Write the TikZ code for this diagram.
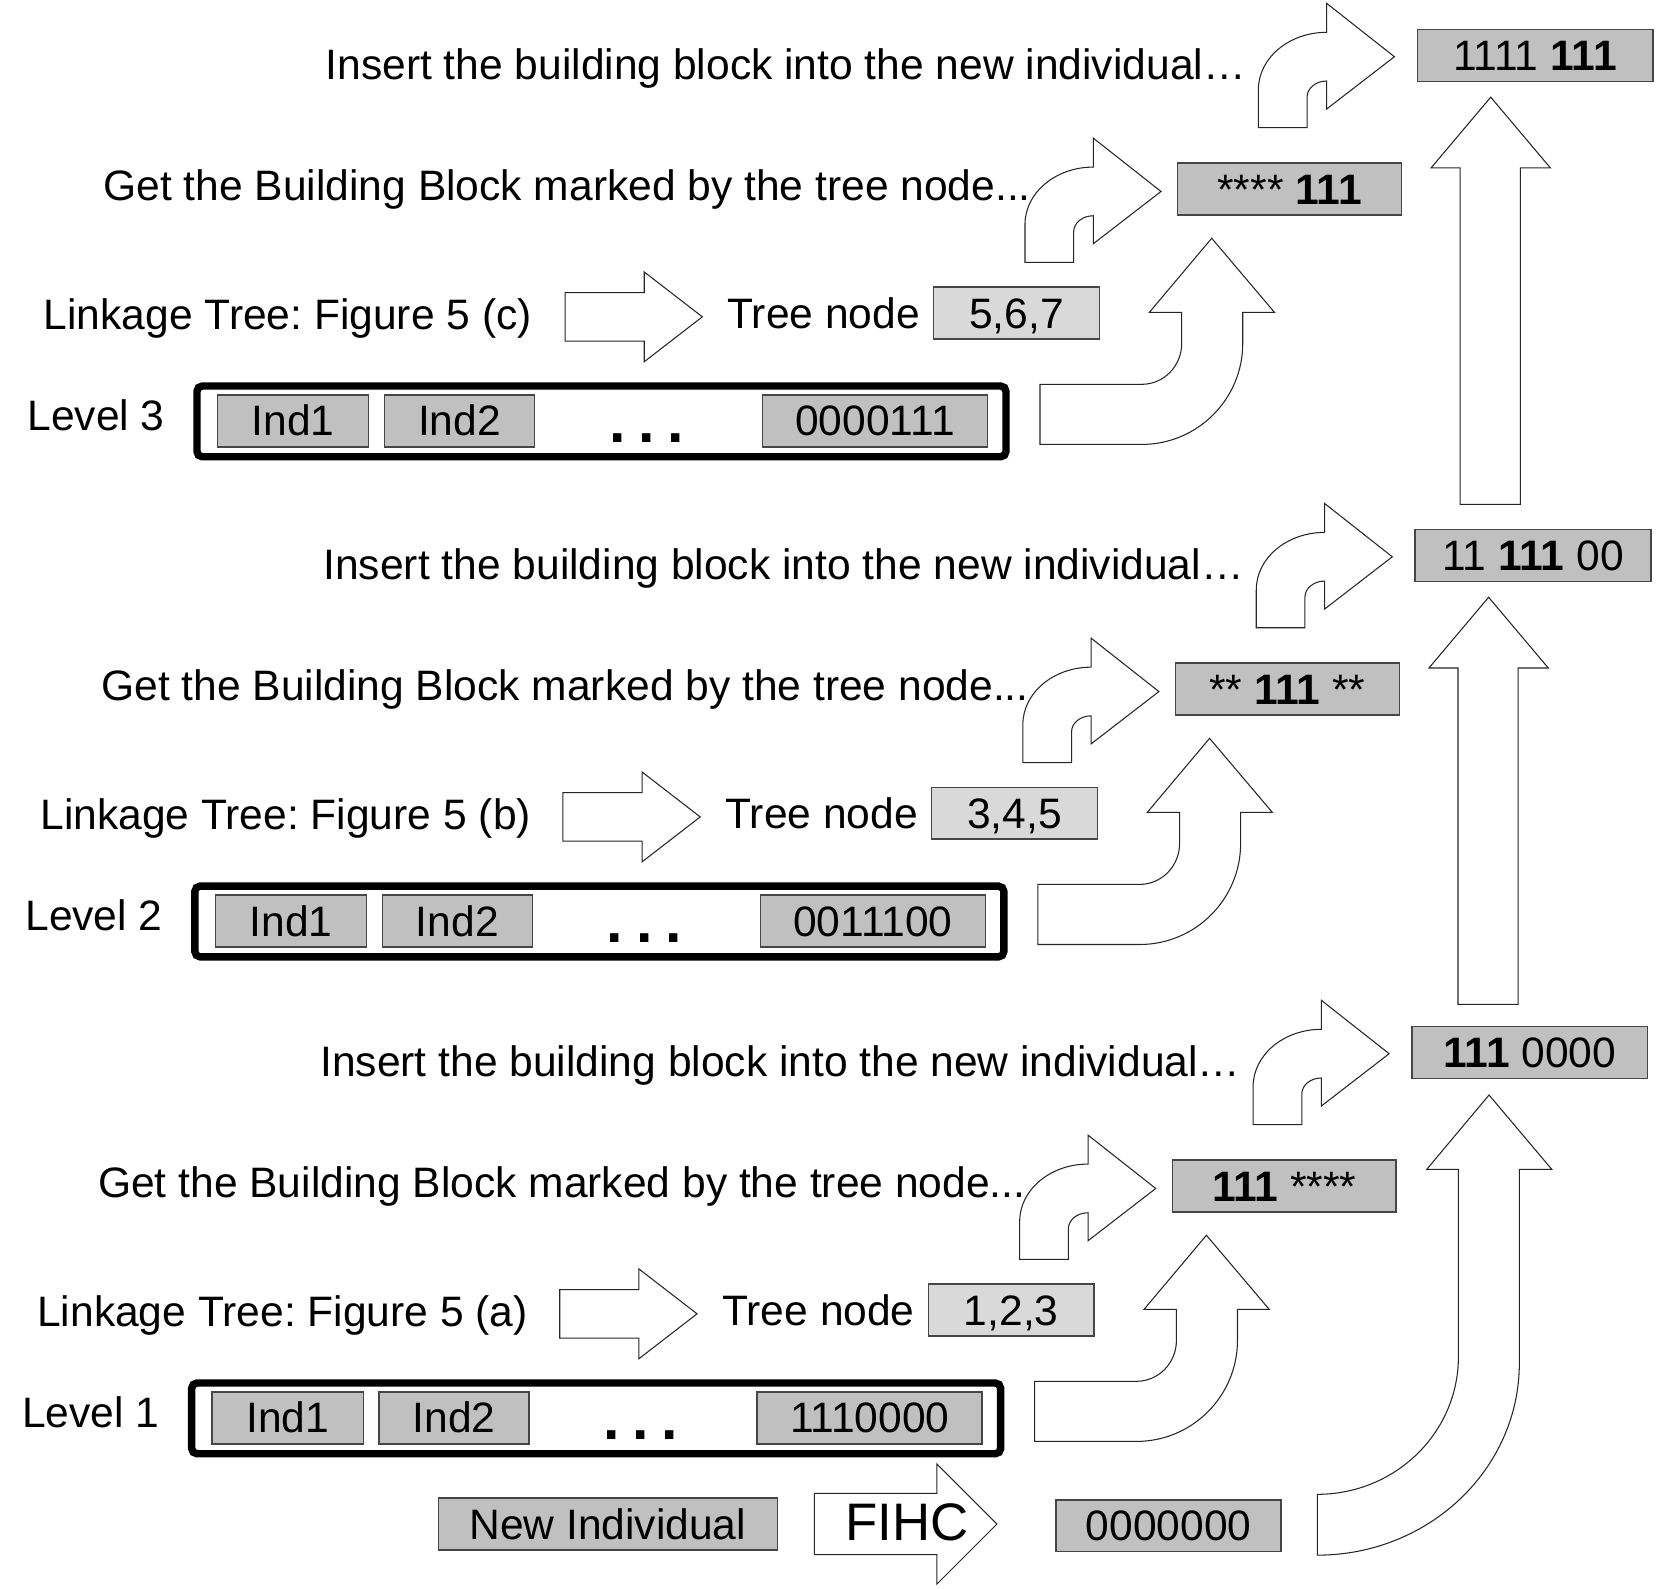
\documentclass[tikz,border=0pt]{standalone}
\usepackage{fontspec}
\setmainfont{Liberation Sans}
\frenchspacing
\definecolor{boxgray}{RGB}{192,192,192}
\definecolor{treegray}{RGB}{217,217,217}
\definecolor{edgegray}{RGB}{70,70,70}
\tikzset{
  lbl/.style={inner sep=0pt, anchor=base, font=\fontsize{40.3}{48}\selectfont},
  gbox/.style={draw=edgegray, fill=boxgray, line width=1.5pt, inner sep=0pt,
    minimum height=49pt, text height=28.5pt, text depth=0pt,
    font=\fontsize{40.3}{48}\selectfont},
  tbox/.style={gbox, fill=treegray},
  lvlbox/.style={draw=black, line width=7pt, rounded corners=5pt,
    minimum width=766pt, minimum height=67pt, inner sep=0pt},
  dotsty/.style={inner sep=0pt, anchor=base, font=\fontsize{56}{64}\selectfont\bfseries},
  shp/.style={draw=black!85, fill=white, line width=1pt, line join=miter},
  smallarrow/.pic={
    \draw[shp] (0,0) -- (0,-36) .. controls (0,-66) and (29,-90.3) .. (64.7,-90.3)
      -- (64.7,-117.7) -- (128.8,-67.2) -- (64.7,-17.7) -- (64.7,-44.2)
      .. controls (54.4,-44.2) and (46.1,-37.4) .. (46.1,-29) -- (46.1,0) -- cycle;
  },
  bigcurve/.pic={
    \draw[shp] (0,0) -- (0,-56.9) -- (96.4,-56.9)
      .. controls (117.3,-56.9) and (134.2,-74.3) .. (134.2,-95.7)
      -- (134.2,-125.1) -- (103.6,-125.1) -- (162.6,-195.2) -- (222,-125.1)
      -- (192,-125.1) -- (192,-95.7)
      .. controls (192,-42.9) and (149.2,0) .. (96.4,0) -- cycle;
  }
}
% #1 level, #2 letter, #3 tree node, #4 last individual, #5 result, #6 building block
\newcommand{\levelblock}[6]{%
  \node[lbl] (ins#1) at (744,75) {Insert the building block into the new individual…};
  \node[lbl] (get#1) at (537,190) {Get the Building Block marked by the tree node...};
  \node[lbl] (lt#1) at (272.5,312) {Linkage Tree: Figure 5 (#2)};
  \node[lbl] (tn#1) at (780,311) {Tree node};
  \node[lbl] (lv#1) at (91,408) {Level #1};
  \node[gbox, minimum width=223pt] (res#1) at (1453.5,52.5) {#5};
  \node[gbox, minimum width=212pt] (bb#1) at (1221,179) {#6};
  \node[tbox, minimum width=157pt] (tv#1) at (962.5,296.5) {#3};
  \node[lvlbox] (pop#1) at (569.5,399) {};
  \node[gbox, minimum width=143pt] (inda#1) at (277.5,398.5) {Ind1};
  \node[gbox, minimum width=142pt] (indb#1) at (435,398.5) {Ind2};
  \node[gbox, minimum width=213pt] (indz#1) at (828.5,398.5) {#4};
  \node[dotsty] (dots#1) at (612,419) {.\hspace{12pt}.\hspace{12pt}.};
  \draw[shp] (535,277) -- (610,277) -- (610,257.5) -- (665,300) -- (610,342.5)
    -- (610,323) -- (535,323) -- cycle;
  \pic at (970.5,248.5) {smallarrow};
  \pic at (1191.5,120.9) {smallarrow};
  \pic at (984.7,420.8) {bigcurve};
}
\begin{document}
\begin{tikzpicture}[x=1pt,y=-1pt]
\useasboundingbox (0,0) rectangle (1568,1504);
\begin{scope}
  \levelblock{3}{c}{5,6,7}{0000111}{1111 \textbf{111}}{**** \textbf{111}}
  \draw[shp] (1382.5,477.5) -- (1382.5,159) -- (1355,159) -- (1411.5,92)
    -- (1468,159) -- (1439.5,159) -- (1439.5,477.5) -- cycle;
\end{scope}
\begin{scope}[shift={(-2,473.5)}]
  \levelblock{2}{b}{3,4,5}{0011100}{11 \textbf{111} 00}{** \textbf{111} **}
  \draw[shp] (1382.5,477.5) -- (1382.5,159) -- (1355,159) -- (1411.5,92)
    -- (1468,159) -- (1439.5,159) -- (1439.5,477.5) -- cycle;
\end{scope}
\begin{scope}[shift={(-5,944)}]
  \levelblock{1}{a}{1,2,3}{1110000}{\textbf{111} 0000}{\textbf{111} ****}
\end{scope}
% bottom row
\node[gbox, minimum width=321pt] (newind) at (575.5,1443) {New Individual};
\draw[shp] (771,1414) -- (887,1414) -- (887,1386) -- (944,1443) -- (887,1500)
  -- (887,1472) -- (771,1472) -- cycle;
\node[lbl, font=\fontsize{50}{60}\selectfont] (fihc) at (859,1458.5) {FIHC};
\node[gbox, minimum width=213pt] (zero) at (1106.5,1444.5) {0000000};
\draw[shp] (1247.3,1472.5) -- (1247.3,1414.9)
  .. controls (1321.1,1414.9) and (1380.9,1356.6) .. (1380.9,1284.6)
  -- (1380.9,1107.2) -- (1350.9,1107.2) -- (1409.9,1036.8) -- (1469.3,1107.2)
  -- (1438.6,1107.2) -- (1438.6,1290.6)
  .. controls (1438.6,1391.1) and (1352.9,1472.5) .. (1247.3,1472.5) -- cycle;
\end{tikzpicture}
\end{document}
